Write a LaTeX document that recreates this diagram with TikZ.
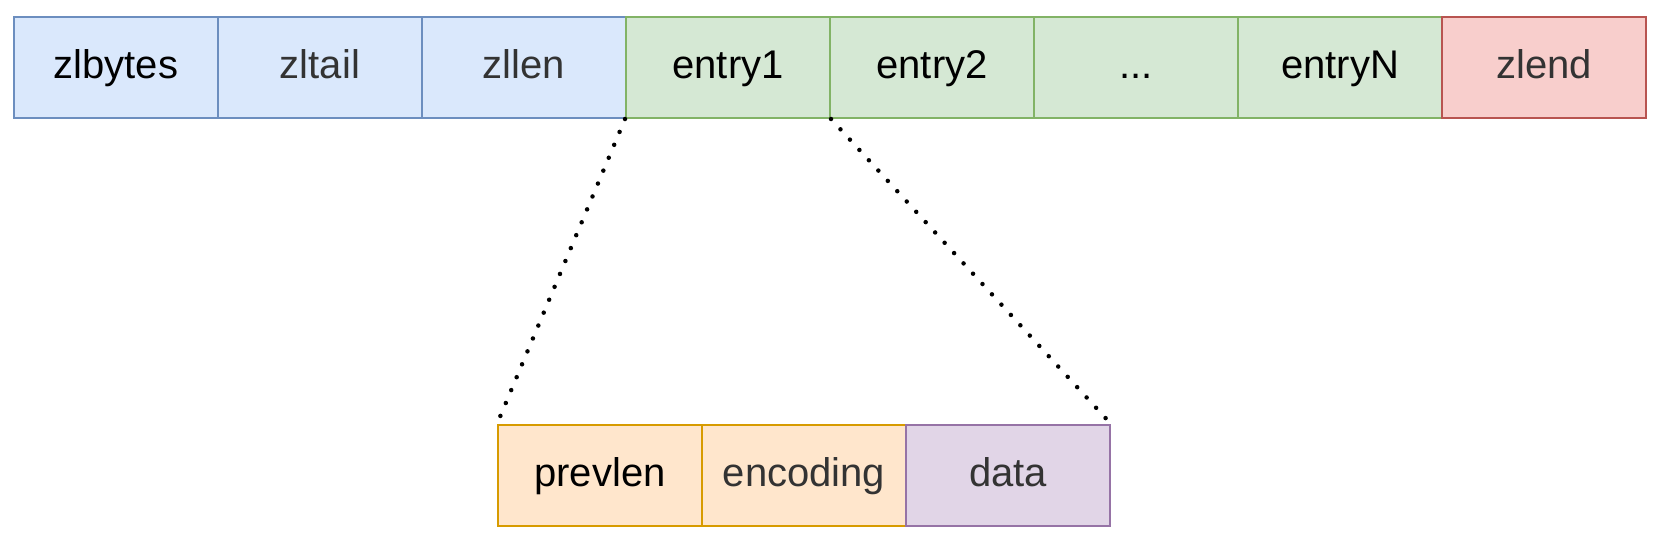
\documentclass[tikz,border=0pt]{standalone}
\usepackage{fontspec}
\setmainfont{Liberation Sans}
\definecolor{bluef}{HTML}{DAE8FC}\definecolor{bluel}{HTML}{6C8EBF}
\definecolor{greenf}{HTML}{D5E8D4}\definecolor{greenl}{HTML}{82B366}
\definecolor{redf}{HTML}{F8CECC}\definecolor{redl}{HTML}{B85450}
\definecolor{orangef}{HTML}{FFE6CC}\definecolor{orangel}{HTML}{D79B00}
\definecolor{purplef}{HTML}{E1D5E7}\definecolor{purplel}{HTML}{9673A6}
\definecolor{txtgrey}{HTML}{333333}
\begin{document}
\begin{tikzpicture}[x=1pt,y=-1pt,
  cell/.style={draw, line width=2pt, minimum width=204pt, minimum height=101pt, inner sep=0pt, text height=30pt, text depth=9pt, font=\fontsize{40}{48}\selectfont, anchor=north west},
  bcell/.style={cell, fill=bluef, draw=bluel},
  gcell/.style={cell, fill=greenf, draw=greenl},
  rcell/.style={cell, fill=redf, draw=redl},
  ocell/.style={cell, fill=orangef, draw=orangel},
  pcell/.style={cell, fill=purplef, draw=purplel},
  dotline/.style={line width=4.5pt, line cap=round, dash pattern=on 0pt off 14pt}]
\useasboundingbox (0,0) rectangle (1670,544);
\node[bcell] (zlbytes) at (13,16) {zlbytes};
\node[bcell, text=txtgrey] (zltail) at (217,16) {zltail};
\node[bcell, text=txtgrey] (zllen) at (421,16) {zllen};
\node[gcell] (entry1) at (625,16) {entry1};
\node[gcell] (entry2) at (829,16) {entry2};
\node[gcell] (dots) at (1033,16) {...};
\node[gcell] (entryN) at (1237,16) {entryN};
\node[rcell, text=txtgrey] (zlend) at (1441,16) {zlend};
\node[ocell] (prevlen) at (497,424) {prevlen};
\node[ocell, text=txtgrey] (encoding) at (701,424) {encoding};
\node[pcell, text=txtgrey] (data) at (905,424) {data};
\draw[dotline] (entry1.south west) -- (prevlen.north west);
\draw[dotline] (entry1.south east) -- (data.north east);
\end{tikzpicture}
\end{document}
